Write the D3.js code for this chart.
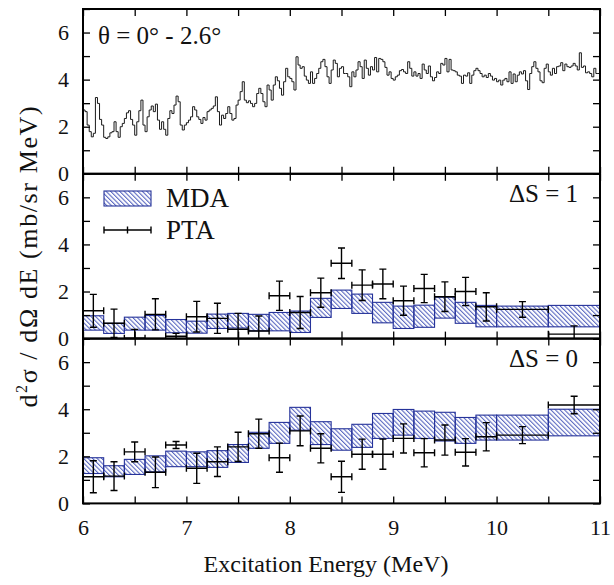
<!DOCTYPE html>
<html lang="en">
<head>
  <meta charset="UTF-8" />
  <title>Excitation energy spectra</title>
  <style>
    body { margin: 0; background: #fff; }
    svg text { font-family: "Liberation Serif", "DejaVu Serif", serif !important; fill: #111; }
    .axis path { display: none; }
    .axis line { stroke: #000; stroke-width: 1.3; }
    .axis text { font-size: 22px; }
  </style>
</head>
<body>
  <div id="chart"></div>

  <script src="https://d3js.org/d3.v7.min.js"></script>
  <script>
    // --- data ---
    // top panel: spectrum histogram, 0.02 MeV bins starting at 6 MeV
    const histStart = 6.0;
    const histStep = 0.02;
    const histValues = [
      2.71,2.64,2.07,1.79,1.57,1.72,3.24,2.99,2.31,2.07,
      1.55,1.5,1.57,1.74,1.79,2.21,1.79,1.55,2.0,2.14,
      2.35,2.59,2.68,2.31,2.07,1.64,2.21,2.68,3.13,2.07,
      1.79,2.42,2.71,2.88,2.64,2.96,2.28,1.89,2.21,1.89,
      1.64,2.35,2.68,2.56,2.92,3.3,3.06,2.07,1.86,2.07,
      2.17,2.28,2.42,2.85,2.71,2.42,2.31,2.14,2.39,2.28,
      2.64,2.71,2.78,2.88,
      3.27,2.64,2.07,2.49,2.35,2.56,2.85,2.56,2.28,2.35,
      2.92,3.13,3.49,3.91,3.13,3.02,3.1,2.99,2.85,2.99,
      3.41,3.63,3.41,3.06,2.85,3.77,3.56,3.13,3.77,4.12,
      3.95,3.63,3.34,3.91,4.48,4.12,4.05,3.91,3.56,4.97,
      4.62,4.48,4.55,4.15,3.98,3.84,4.33,3.84,4.05,4.26,
      4.48,4.76,4.86,4.55,4.12,3.84,4.41,4.83,4.69,4.12,
      4.48,4.55,4.26,
      4.26,4.12,3.7,4.33,4.12,4.41,4.76,4.55,4.05,4.83,
      4.48,4.19,4.55,4.41,4.94,4.33,4.9,4.86,4.76,4.52,
      4.19,4.33,4.05,3.98,4.12,4.19,4.38,4.43,4.33,4.26,
      4.76,4.48,4.15,4.33,4.15,4.26,4.05,4.66,4.41,4.26,
      4.58,4.12,3.95,4.09,4.33,4.26,4.69,4.62,4.9,4.33,
      4.86,4.41,4.38,4.33,4.19,4.15,3.84,4.19,4.15,4.29,
      3.84,4.19,4.38,
      4.48,4.38,4.26,4.12,4.19,4.09,4.26,4.15,3.98,4.05,
      3.91,3.98,3.77,3.98,4.05,3.91,4.33,3.84,4.24,3.91,
      4.19,4.33,4.24,4.38,3.95,3.58,4.26,4.55,4.76,4.48,
      4.33,3.95,3.87,4.48,4.66,4.33,4.19,4.48,4.26,4.55,
      4.58,4.72,4.38,4.66,4.55,4.52,4.58,4.69,4.58,4.41,
      5.14,4.52,4.58,4.29,4.33,4.26,4.12,4.48,4.26,4.26
    ];

    // bin edges shared by MDA bands and PTA points
    const binEdges = [6.0,6.2,6.4,6.6,6.8,7.0,7.2,7.4,7.6,7.8,8.0,8.2,8.4,8.6,8.8,9.0,9.2,9.4,9.6,9.8,10.0,10.5,11.0];

    // dS = 1
    const ds1MdaLow  = [0.36,0.22,0.36,0.36,0.25,0.23,0.43,0.45,0.33,0.33,0.26,0.9,1.28,1.07,0.67,0.43,0.48,0.87,0.65,0.5,0.5,0.5];
    const ds1MdaHigh = [0.97,0.65,0.91,0.98,0.81,0.74,1.04,1.07,1.03,1.11,1.17,1.71,2.06,1.89,1.54,1.38,1.42,1.76,1.54,1.41,1.38,1.41];
    const ds1Pta     = [1.18,0.65,0.02,1.03,0.1,0.93,0.86,0.4,0.32,1.82,1.11,1.95,3.2,2.27,2.32,1.61,2.13,1.78,2.0,1.35,1.24,0.19];
    const ds1PtaErr  = [0.7,0.6,0.37,0.66,0.12,0.65,0.64,0.67,0.64,0.62,0.68,0.62,0.65,0.65,0.63,0.62,0.6,0.63,0.6,0.6,0.33,0.35];

    // dS = 0
    const ds0MdaLow  = [1.27,1.13,1.23,1.34,1.56,1.56,1.53,1.74,2.34,2.55,3.11,2.5,2.26,2.38,2.76,2.9,2.76,2.65,2.55,2.69,2.69,2.87];
    const ds0MdaHigh = [1.94,1.6,1.87,2.02,2.22,2.19,2.24,2.5,3.02,3.44,4.08,3.47,3.17,3.36,3.82,3.99,3.92,3.87,3.65,3.75,3.75,4.0];
    const ds0Pta     = [1.13,1.16,2.19,1.32,2.48,1.49,1.77,2.4,2.96,1.94,3.08,2.34,1.13,2.09,2.09,2.76,2.15,2.69,2.17,2.83,2.9,4.18];
    const ds0PtaErr  = [0.68,0.61,0.42,0.65,0.15,0.64,0.63,0.62,0.62,0.62,0.63,0.62,0.66,0.64,0.64,0.62,0.6,0.64,0.58,0.6,0.36,0.37];

    const yTicks = [0,1,2,3,4,5,6,7];
    const yTickLabels = [0,2,4,6];
    const xTicks = [6,6.5,7,7.5,8,8.5,9,9.5,10,10.5,11];
    const xTickLabels = [6,7,8,9,10,11];

    // --- layout ---
    const svgW = 614, svgH = 585;
    const plotL = 83, plotR = 600, plotT = 9, panelH = 164.8;
    const hatchColor = '#2c3fb0';
    const serif = '"Liberation Serif", "DejaVu Serif", serif';

    const svg = d3.select('#chart').append('svg')
      .attr('width', svgW).attr('height', svgH)
      .attr('font-family', serif);

    const defs = svg.append('defs');
    defs.append('pattern')
      .attr('id', 'hatch')
      .attr('patternUnits', 'userSpaceOnUse')
      .attr('width', 3.2).attr('height', 3.2)
      .attr('patternTransform', 'rotate(-45)')
      .append('line')
      .attr('x1', 0.6).attr('y1', 0).attr('x2', 0.6).attr('y2', 3.2)
      .attr('stroke', hatchColor).attr('stroke-width', 0.85);

    const x = d3.scaleLinear().domain([6, 11]).range([plotL, plotR]);
    const yFor = p => d3.scaleLinear().domain([0, 7])
      .range([plotT + (p + 1) * panelH, plotT + p * panelH]);

    function drawAxes(p, y) {
      const g = svg.append('g');
      const y0 = y(0), y1 = y(7);
      g.append('g').attr('class', 'axis').attr('transform', `translate(${plotL},0)`)
        .call(d3.axisLeft(y).tickValues(yTicks).tickSize(-7).tickPadding(14)
          .tickFormat(d => yTickLabels.includes(d) ? d : ''));
      g.append('g').attr('class', 'axis').attr('transform', `translate(${plotR},0)`)
        .call(d3.axisRight(y).tickValues(yTicks).tickSize(-7).tickFormat(''));
      g.append('g').attr('class', 'axis').attr('transform', `translate(0,${y0})`)
        .call(d3.axisBottom(x).tickValues(xTicks).tickSize(-7).tickPadding(16)
          .tickFormat(d => (p === 2 && xTickLabels.includes(d)) ? d : ''));
      g.append('g').attr('class', 'axis').attr('transform', `translate(0,${y1})`)
        .call(d3.axisTop(x).tickValues(xTicks).tickSize(-7).tickFormat(''));
      g.selectAll('.axis').attr('font-family', serif);
      g.append('rect')
        .attr('x', plotL).attr('y', y1)
        .attr('width', plotR - plotL).attr('height', y0 - y1)
        .attr('fill', 'none').attr('stroke', '#000').attr('stroke-width', 2);
    }

    function clipFor(p, y) {
      const id = 'clip' + p;
      defs.append('clipPath').attr('id', id).append('rect')
        .attr('x', plotL).attr('y', y(7))
        .attr('width', plotR - plotL).attr('height', y(0) - y(7));
      return `url(#${id})`;
    }

    function drawMda(y, low, high, clip) {
      const g = svg.append('g').attr('clip-path', clip);
      g.selectAll('rect').data(low).join('rect')
        .attr('x', (d, i) => x(binEdges[i]))
        .attr('width', (d, i) => x(binEdges[i + 1]) - x(binEdges[i]))
        .attr('y', (d, i) => y(high[i]))
        .attr('height', (d, i) => y(low[i]) - y(high[i]))
        .attr('fill', 'url(#hatch)')
        .attr('stroke', '#26339a').attr('stroke-width', 1.1);
    }

    function drawPta(y, vals, errs, clip) {
      const g = svg.append('g').attr('clip-path', clip)
        .attr('stroke', '#000').attr('stroke-width', 1.4).attr('fill', 'none');
      const cap = 3.5;
      vals.forEach((v, i) => {
        const xa = x(binEdges[i]), xb = x(binEdges[i + 1]);
        const xc = (xa + xb) / 2;
        const yv = y(v), yt = y(v + errs[i]), yb = y(v - errs[i]);
        const path = d3.path();
        path.moveTo(xa, yv); path.lineTo(xb, yv);
        path.moveTo(xa, yv - cap); path.lineTo(xa, yv + cap);
        path.moveTo(xb, yv - cap); path.lineTo(xb, yv + cap);
        path.moveTo(xc, yt); path.lineTo(xc, yb);
        path.moveTo(xc - cap, yt); path.lineTo(xc + cap, yt);
        path.moveTo(xc - cap, yb); path.lineTo(xc + cap, yb);
        g.append('path').attr('d', path.toString());
      });
    }

    // panel 1: histogram
    const y1 = yFor(0);
    const histPoints = histValues.map((v, i) => [histStart + i * histStep, v]);
    histPoints.push([11, histValues[histValues.length - 1]]);
    svg.append('path')
      .datum(histPoints)
      .attr('clip-path', clipFor(0, y1))
      .attr('fill', 'none').attr('stroke', '#1a1a1a').attr('stroke-width', 1)
      .attr('d', d3.line().x(d => x(d[0])).y(d => y1(d[1])).curve(d3.curveStepAfter));
    drawAxes(0, y1);
    svg.append('text').attr('x', 98).attr('y', 44)
      .attr('font-size', 25).text('θ = 0° - 2.6°');

    // panel 2: dS = 1
    const y2 = yFor(1);
    const c2 = clipFor(1, y2);
    drawMda(y2, ds1MdaLow, ds1MdaHigh, c2);
    drawPta(y2, ds1Pta, ds1PtaErr, c2);
    drawAxes(1, y2);
    svg.append('text').attr('x', 578).attr('y', 202).attr('text-anchor', 'end')
      .attr('font-size', 25).text('ΔS = 1');

    // legend
    svg.append('rect').attr('x', 104).attr('y', 191).attr('width', 47).attr('height', 15)
      .attr('fill', 'url(#hatch)').attr('stroke', '#26339a').attr('stroke-width', 1.1);
    svg.append('text').attr('x', 166).attr('y', 207).attr('font-size', 27).text('MDA');
    const lg = d3.path();
    lg.moveTo(104, 230); lg.lineTo(151, 230);
    lg.moveTo(104, 226.5); lg.lineTo(104, 233.5);
    lg.moveTo(151, 226.5); lg.lineTo(151, 233.5);
    lg.moveTo(127.5, 226.5); lg.lineTo(127.5, 233.5);
    svg.append('path').attr('d', lg.toString())
      .attr('stroke', '#000').attr('stroke-width', 1.4).attr('fill', 'none');
    svg.append('text').attr('x', 166).attr('y', 239).attr('font-size', 27).text('PTA');

    // panel 3: dS = 0
    const y3 = yFor(2);
    const c3 = clipFor(2, y3);
    drawMda(y3, ds0MdaLow, ds0MdaHigh, c3);
    drawPta(y3, ds0Pta, ds0PtaErr, c3);
    drawAxes(2, y3);
    svg.append('text').attr('x', 578).attr('y', 367).attr('text-anchor', 'end')
      .attr('font-size', 25).text('ΔS = 0');

    // axis titles
    svg.append('text').attr('x', 326).attr('y', 572)
      .attr('text-anchor', 'middle').attr('font-size', 24)
      .text('Excitation Energy (MeV)');
    const yl = svg.append('text')
      .attr('transform', `translate(37,${plotT + 1.5 * panelH}) rotate(-90)`)
      .attr('text-anchor', 'middle').attr('font-size', 26).attr('letter-spacing', 1.6);
    yl.append('tspan').text('d');
    yl.append('tspan').attr('font-size', 16).attr('dy', -10).text('2');
    yl.append('tspan').attr('dy', 10).text('σ / dΩ dE (mb/sr MeV)');
  </script>
</body>
</html>
